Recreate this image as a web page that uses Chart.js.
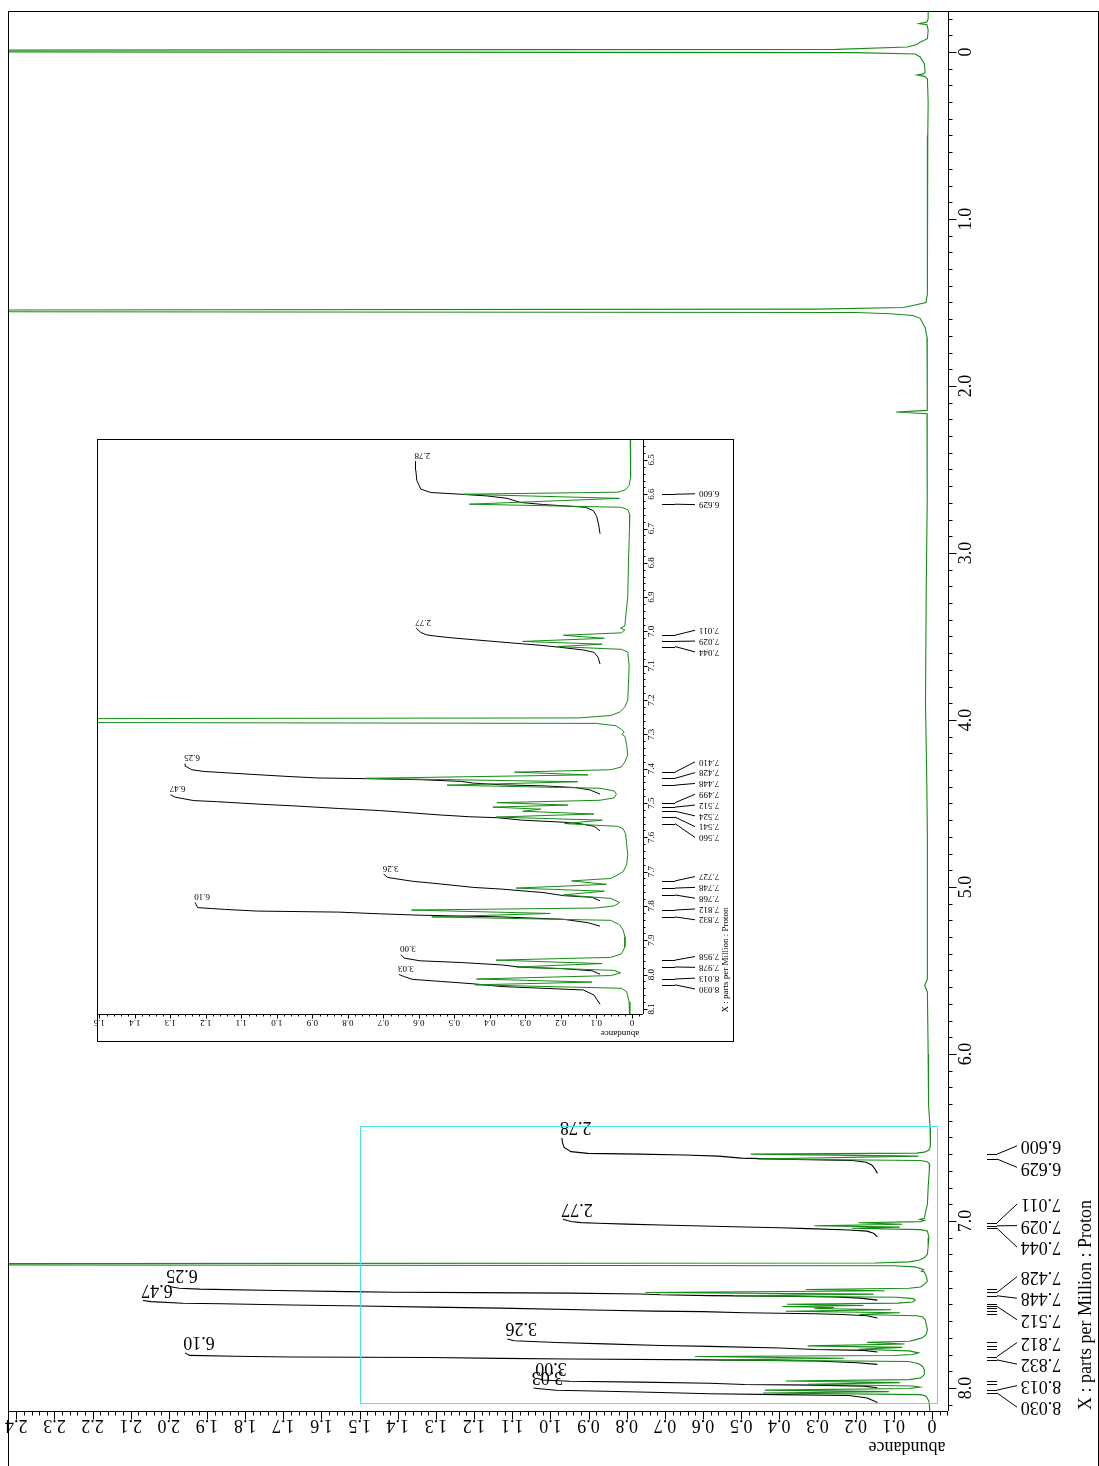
<!DOCTYPE html>
<html>
<head>
<meta charset="utf-8">
<script src="https://cdn.jsdelivr.net/npm/chart.js@4.4.1/dist/chart.umd.min.js"></script>
<style>
  html, body { margin: 0; padding: 0; background: #fff; }
  #wrap { position: relative; width: 1099px; height: 1466px; overflow: hidden; background: #fff; }
  #main { position: absolute; left: 0; top: 0; }
  #inset { position: absolute; left: 90px; top: 432px; }
</style>
</head>
<body>
<div id="wrap">
  <canvas id="main" width="1099" height="1466"></canvas>
  <canvas id="inset" width="650" height="616"></canvas>
</div>
<script>
// 1H NMR spectrum, [ppm, abundance]
const tmsRegion = [
  [-0.25, 0.010], [-0.20, 0.010], [-0.18, 0.013], [-0.17, 0.034], [-0.163, 0.013],
  [-0.13, 0.010], [-0.08, 0.012], [-0.055, 0.034], [-0.045, 0.040], [-0.030, 0.065],
  [-0.016, 0.25], [-0.009, 3.5], [-0.003, 3.5], [0.004, 0.20], [0.012, 0.044],
  [0.03, 0.031], [0.07, 0.020], [0.12, 0.018], [0.131, 0.022], [0.138, 0.039],
  [0.146, 0.020], [0.16, 0.012], [0.30, 0.010]
];
const aliphaticRegion = [
  [0.50, 0.011], [0.80, 0.012], [1.00, 0.011], [1.20, 0.012], [1.45, 0.013],
  [1.50, 0.016], [1.515, 0.044], [1.530, 0.075], [1.540, 0.30], [1.547, 3.5],
  [1.553, 3.5], [1.560, 0.20], [1.567, 0.11], [1.578, 0.050], [1.595, 0.031],
  [1.65, 0.018], [1.71, 0.013], [1.90, 0.012], [2.10, 0.012], [2.146, 0.013],
  [2.156, 0.094], [2.166, 0.013], [2.30, 0.012], [2.70, 0.013], [3.20, 0.015],
  [3.90, 0.017], [4.30, 0.014], [4.70, 0.012], [5.20, 0.012], [5.55, 0.012],
  [5.59, 0.019], [5.63, 0.012], [6.00, 0.010], [6.30, 0.009]
];
const aromaticRegionA = [
  [6.44, 0.005], [6.55, 0.004], [6.575, 0.008], [6.588, 0.020], [6.594, 0.040],
  [6.600, 0.475], [6.612, 0.035], [6.629, 0.458], [6.638, 0.030], [6.645, 0.012],
  [6.66, 0.006], [6.70, 0.007], [6.80, 0.010], [6.90, 0.012], [6.96, 0.018],
  [6.984, 0.020], [6.990, 0.032], [6.996, 0.020], [7.004, 0.030], [7.011, 0.193],
  [7.020, 0.078], [7.029, 0.308], [7.037, 0.084], [7.044, 0.210], [7.052, 0.030],
  [7.06, 0.012], [7.10, 0.008], [7.15, 0.010], [7.20, 0.012], [7.22, 0.020],
  [7.235, 0.035], [7.245, 0.060], [7.252, 0.15], [7.257, 3.5], [7.262, 3.5],
  [7.268, 0.10], [7.275, 0.045], [7.285, 0.030], [7.293, 0.022], [7.300, 0.028],
  [7.306, 0.020]
];
const aromaticRegionB = [
  [7.33, 0.015], [7.36, 0.012], [7.38, 0.020], [7.395, 0.030], [7.403, 0.060],
  [7.410, 0.331], [7.418, 0.124], [7.428, 0.751], [7.438, 0.153], [7.448, 0.521],
  [7.457, 0.090], [7.465, 0.050], [7.474, 0.044], [7.485, 0.050], [7.492, 0.090],
  [7.499, 0.380], [7.506, 0.180], [7.512, 0.392], [7.518, 0.257], [7.524, 0.308],
  [7.532, 0.107], [7.541, 0.383], [7.550, 0.084], [7.560, 0.190], [7.568, 0.040],
  [7.575, 0.025], [7.59, 0.018], [7.62, 0.015], [7.65, 0.012], [7.68, 0.015],
  [7.70, 0.025], [7.712, 0.045], [7.720, 0.060], [7.727, 0.170], [7.737, 0.072],
  [7.748, 0.326], [7.757, 0.078], [7.768, 0.193], [7.778, 0.060], [7.790, 0.035],
  [7.800, 0.050], [7.806, 0.100], [7.812, 0.621], [7.822, 0.230], [7.832, 0.564],
  [7.842, 0.060], [7.855, 0.035], [7.87, 0.025], [7.89, 0.020], [7.92, 0.020],
  [7.94, 0.030], [7.950, 0.060], [7.958, 0.383], [7.968, 0.084], [7.978, 0.326],
  [7.988, 0.050], [7.995, 0.032], [8.003, 0.060], [8.013, 0.438], [8.022, 0.113],
  [8.030, 0.443], [8.040, 0.030], [8.05, 0.015], [8.08, 0.008], [8.12, 0.006],
  [8.16, 0.006]
];

// picked peaks (ppm)
const peakPpm = [6.600, 6.629, 7.011, 7.029, 7.044, 7.410, 7.428, 7.448, 7.499, 7.512, 7.524,
  7.541, 7.560, 7.727, 7.748, 7.768, 7.812, 7.832, 7.958, 7.978, 8.013, 8.030];
const mainPeakLabels = ['6.600', '6.629', '7.011', '7.029', '7.044', '7.428', '7.448', '7.512',
  '7.812', '7.832', '8.013', '8.030'];

// integrals: [ppm, running integral]
const integralLabels = ['2.78', '2.77', '6.25', '6.47', '3.26', '6.10', '3.00', '3.03'];
const integralA = [[6.715, 0], [6.690, 0.02], [6.665, 0.05], [6.648, 0.10], [6.638, 0.22], [6.630, 0.85],
  [6.624, 1.20], [6.612, 1.40], [6.605, 1.70], [6.600, 2.10], [6.595, 2.55], [6.585, 2.70],
  [6.560, 2.76], [6.530, 2.775], [6.503, 2.78]];
const integralB = [[7.095, 0], [7.075, 0.03], [7.061, 0.09], [7.054, 0.25], [7.046, 0.61], [7.041, 0.86],
  [7.036, 1.17], [7.030, 1.54], [7.024, 1.91], [7.019, 2.21], [7.014, 2.46], [7.010, 2.61],
  [7.003, 2.70], [6.990, 2.77]];
const integralC = [[7.474, 0], [7.462, 0.15], [7.455, 0.37], [7.450, 0.86], [7.447, 1.48], [7.442, 1.91],
  [7.437, 2.09], [7.432, 2.71], [7.429, 3.54], [7.427, 4.25], [7.423, 4.67], [7.416, 5.29],
  [7.408, 5.97], [7.403, 6.15], [7.393, 6.24], [7.385, 6.25]];
const integralD = [[7.581, 0], [7.568, 0.09], [7.560, 0.31], [7.556, 0.55], [7.550, 1.17], [7.543, 1.54],
  [7.540, 1.97], [7.535, 2.40], [7.522, 3.32], [7.516, 3.94], [7.509, 4.55], [7.503, 5.17],
  [7.496, 5.78], [7.493, 6.12], [7.483, 6.40], [7.476, 6.47]];
const integralE = [[7.785, 0], [7.775, 0.12], [7.770, 0.55], [7.761, 0.86], [7.751, 1.48], [7.746, 1.91],
  [7.736, 2.40], [7.728, 2.83], [7.717, 3.20], [7.707, 3.26]];
const integralF = [[7.859, 0], [7.849, 0.18], [7.839, 0.55], [7.832, 1.48], [7.827, 2.71], [7.823, 3.32],
  [7.818, 3.94], [7.815, 5.17], [7.810, 5.66], [7.805, 6.06], [7.790, 6.10]];
const integralG = [[7.999, 0], [7.989, 0.12], [7.983, 0.55], [7.979, 1.17], [7.972, 1.48], [7.965, 2.09],
  [7.960, 2.71], [7.952, 2.95], [7.942, 3.00]];
const integralH = [[8.087, 0], [8.060, 0.09], [8.045, 0.25], [8.040, 0.86], [8.035, 1.48], [8.027, 1.91],
  [8.020, 2.40], [8.014, 2.83], [8.006, 2.95], [8.000, 3.03]];
const integrals = [integralA, integralB, integralC, integralD, integralE, integralF, integralG, integralH];

// tick labels
const mainPpmTicks = ['0', '1.0', '2.0', '3.0', '4.0', '5.0', '6.0', '7.0', '8.0'];
const mainAbundanceTicks = ['0', '0.1', '0.2', '0.3', '0.4', '0.5', '0.6', '0.7', '0.8', '0.9', '1.0',
  '1.1', '1.2', '1.3', '1.4', '1.5', '1.6', '1.7', '1.8', '1.9', '2.0', '2.1', '2.2', '2.3', '2.4'];
const insetPpmTicks = ['6.5', '6.6', '6.7', '6.8', '6.9', '7.0', '7.1', '7.2', '7.3', '7.4', '7.5',
  '7.6', '7.7', '7.8', '7.9', '8.0', '8.1'];
const insetAbundanceTicks = ['0', '0.1', '0.2', '0.3', '0.4', '0.5', '0.6', '0.7', '0.8', '0.9', '1.0',
  '1.1', '1.2', '1.3', '1.4', '1.5'];

const GREEN = '#168c16';
const spectrum = tmsRegion.concat(aliphaticRegion, aromaticRegionA, aromaticRegionB)
  .map(([p, a]) => ({ x: a, y: p }));

function drawText(ctx, text, x, y, angle, font) {
  ctx.save();
  ctx.translate(x, y);
  ctx.rotate(angle);
  ctx.font = font;
  ctx.textAlign = 'center';
  ctx.textBaseline = 'middle';
  ctx.fillStyle = '#000';
  ctx.fillText(text, 0, 0);
  ctx.restore();
}

// push labels apart so they keep a minimum gap, groups stay centred on their peaks
function spreadLabels(ys, gap) {
  let groups = ys.map((y, i) => ({ idx: [i], sum: y }));
  const top = g => g.sum / g.idx.length - (g.idx.length - 1) * gap / 2;
  let changed = true;
  while (changed) {
    changed = false;
    for (let i = 0; i < groups.length - 1; i++) {
      const a = groups[i], b = groups[i + 1];
      if (top(a) + a.idx.length * gap > top(b)) {
        groups.splice(i, 2, { idx: a.idx.concat(b.idx), sum: a.sum + b.sum });
        changed = true;
        break;
      }
    }
  }
  const out = [];
  groups.forEach(g => { const t = top(g); g.idx.forEach((k, j) => { out[k] = t + j * gap; }); });
  return out;
}

function nmrPlugin(L) {
  return {
    id: 'nmrAxes' + L.name,
    beforeDraw(chart) {
      const ctx = chart.ctx;
      ctx.save();
      ctx.fillStyle = '#fff';
      ctx.fillRect(0, 0, chart.width, chart.height);
      ctx.restore();
    },
    afterDraw(chart) {
      const ctx = chart.ctx;
      const xs = chart.scales.x, ys = chart.scales.y, xi = chart.scales.xi;
      const a = chart.chartArea;
      ctx.save();
      ctx.strokeStyle = '#000';
      ctx.lineWidth = 1;
      // frame
      ctx.strokeRect(L.frame[0] + 0.5, L.frame[1] + 0.5, L.frame[2], L.frame[3]);
      // axis lines
      const ax = Math.round(a.right) + 0.5, ay = Math.round(a.bottom) + 0.5;
      ctx.beginPath();
      ctx.moveTo(ax, a.top); ctx.lineTo(ax, a.bottom);
      ctx.moveTo(a.left, ay); ctx.lineTo(a.right, ay);
      ctx.stroke();
      // ppm ticks
      ctx.beginPath();
      const pStep = L.ppmMinor;
      for (let k = Math.ceil(ys.min / pStep); k * pStep <= ys.max; k++) {
        const v = k * pStep;
        const major = Math.abs(v / L.ppmMajor - Math.round(v / L.ppmMajor)) < 1e-6;
        const y = Math.round(ys.getPixelForValue(v)) + 0.5;
        ctx.moveTo(ax, y); ctx.lineTo(ax + (major ? L.tickMajor : L.tickMinor), y);
      }
      // abundance ticks
      const aStep = L.abMinor;
      for (let k = Math.ceil(xs.min / aStep - 1e-6); k * aStep <= xs.max + 1e-9; k++) {
        const v = k * aStep;
        const major = Math.abs(v / L.abMajor - Math.round(v / L.abMajor)) < 1e-6;
        const x = Math.round(xs.getPixelForValue(v)) + 0.5;
        ctx.moveTo(x, ay); ctx.lineTo(x, ay + (major ? L.tickMajor : L.tickMinor));
      }
      ctx.stroke();
      // tick labels
      L.ppmTicks.forEach(t => drawText(ctx, t, L.ppmLabelX, ys.getPixelForValue(parseFloat(t)), -Math.PI / 2, L.font));
      L.abTicks.forEach(t => drawText(ctx, t, xs.getPixelForValue(parseFloat(t)), L.abLabelY, Math.PI, L.font));
      drawText(ctx, 'abundance', L.abTitle[0], L.abTitle[1], Math.PI, L.font);
      drawText(ctx, 'X : parts per Million : Proton', L.xTitle[0], L.xTitle[1], -Math.PI / 2, L.font);
      // peak markers and labels
      const labelled = peakPpm.filter(p => L.peakLabels.includes(p.toFixed(3)));
      const spots = spreadLabels(labelled.map(p => ys.getPixelForValue(p)), L.labelGap);
      ctx.beginPath();
      peakPpm.forEach(p => {
        const y = Math.round(ys.getPixelForValue(p)) + 0.5;
        ctx.moveTo(L.marker[0], y); ctx.lineTo(L.marker[1], y);
      });
      labelled.forEach((p, i) => {
        ctx.moveTo(L.marker[1], ys.getPixelForValue(p));
        ctx.lineTo(L.marker[2], spots[i]);
      });
      ctx.stroke();
      labelled.forEach((p, i) => drawText(ctx, p.toFixed(3), L.peakLabelX, spots[i], Math.PI, L.font));
      // integral values at the end of each curve
      integrals.forEach((curve, i) => {
        const end = curve[curve.length - 1];
        drawText(ctx, integralLabels[i], xi.getPixelForValue(end[1]) + L.intOffset[0],
          ys.getPixelForValue(end[0]) + L.intOffset[1], Math.PI, L.font);
      });
      // zoomed region
      if (L.zoomBox) {
        const z = L.zoomBox;
        ctx.strokeStyle = '#44e4f2';
        const x0 = Math.round(xs.getPixelForValue(z.abTo)) + 0.5, x1 = Math.round(xs.getPixelForValue(z.abFrom)) + 0.5;
        const y0 = Math.round(ys.getPixelForValue(z.ppmFrom)) + 0.5, y1 = Math.round(ys.getPixelForValue(z.ppmTo)) + 0.5;
        ctx.strokeRect(x0, y0, x1 - x0, y1 - y0);
      }
      ctx.restore();
    }
  };
}

function makeChart(id, L) {
  const intMin = (L.abRange[0] - L.intBase) / L.intScale;
  const intMax = (L.abRange[1] - L.intBase) / L.intScale;
  const datasets = [{
    data: spectrum, xAxisID: 'x', yAxisID: 'y', showLine: true, pointRadius: 0,
    borderColor: GREEN, borderWidth: L.lineWidth
  }];
  integrals.forEach(curve => datasets.push({
    data: curve.map(([p, v]) => ({ x: v, y: p })), xAxisID: 'xi', yAxisID: 'y',
    showLine: true, pointRadius: 0, borderColor: '#000', borderWidth: L.lineWidth
  }));
  return new Chart(document.getElementById(id), {
    type: 'scatter',
    data: { datasets },
    options: {
      responsive: false, animation: false, events: [],
      layout: { padding: L.padding },
      plugins: { legend: { display: false }, tooltip: { enabled: false } },
      scales: {
        x: { type: 'linear', display: false, reverse: true, min: L.abRange[0], max: L.abRange[1] },
        xi: { type: 'linear', display: false, reverse: true, min: intMin, max: intMax },
        y: { type: 'linear', display: false, reverse: true, min: L.ppmRange[0], max: L.ppmRange[1] }
      }
    },
    plugins: [nmrPlugin(L)]
  });
}

makeChart('main', {
  name: 'Main',
  padding: { left: 9, top: 11, right: 151, bottom: 55 },
  abRange: [-0.042, 2.419], ppmRange: [-0.2455, 8.138],
  intBase: 0.143, intScale: 0.2975,
  frame: [8, 11, 1090, 1500],
  ppmMinor: 0.1, ppmMajor: 1, abMinor: 0.02, abMajor: 0.1, tickMajor: 8, tickMinor: 4,
  ppmTicks: mainPpmTicks, abTicks: mainAbundanceTicks,
  ppmLabelX: 966, abLabelY: 1425, abTitle: [907, 1447], xTitle: [1086, 1305],
  font: '18px "Liberation Serif", "Times New Roman", serif',
  peakLabels: mainPeakLabels, labelGap: 21.5, marker: [987, 997, 1017], peakLabelX: 1041,
  intOffset: [14, -11], lineWidth: 1.1,
  zoomBox: { ppmFrom: 6.43, ppmTo: 8.09, abFrom: -0.012, abTo: 1.5 }
});

makeChart('inset', {
  name: 'Inset',
  padding: { left: 7, top: 7, right: 97, bottom: 34 },
  abRange: [-0.031, 1.507], ppmRange: [6.439, 8.115],
  intBase: 0.09, intScale: 0.187,
  frame: [7, 7, 636, 602],
  ppmMinor: 0.02, ppmMajor: 0.1, abMinor: 0.02, abMajor: 0.1, tickMajor: 4, tickMinor: 2,
  ppmTicks: insetPpmTicks, abTicks: insetAbundanceTicks,
  ppmLabelX: 562, abLabelY: 590, abTitle: [530, 601], xTitle: [636, 528],
  font: '9px "Liberation Serif", "Times New Roman", serif',
  peakLabels: peakPpm.map(p => p.toFixed(3)), labelGap: 10.8, marker: [572, 585, 605], peakLabelX: 619,
  intOffset: [7, -6], lineWidth: 1
});
</script>
</body>
</html>
